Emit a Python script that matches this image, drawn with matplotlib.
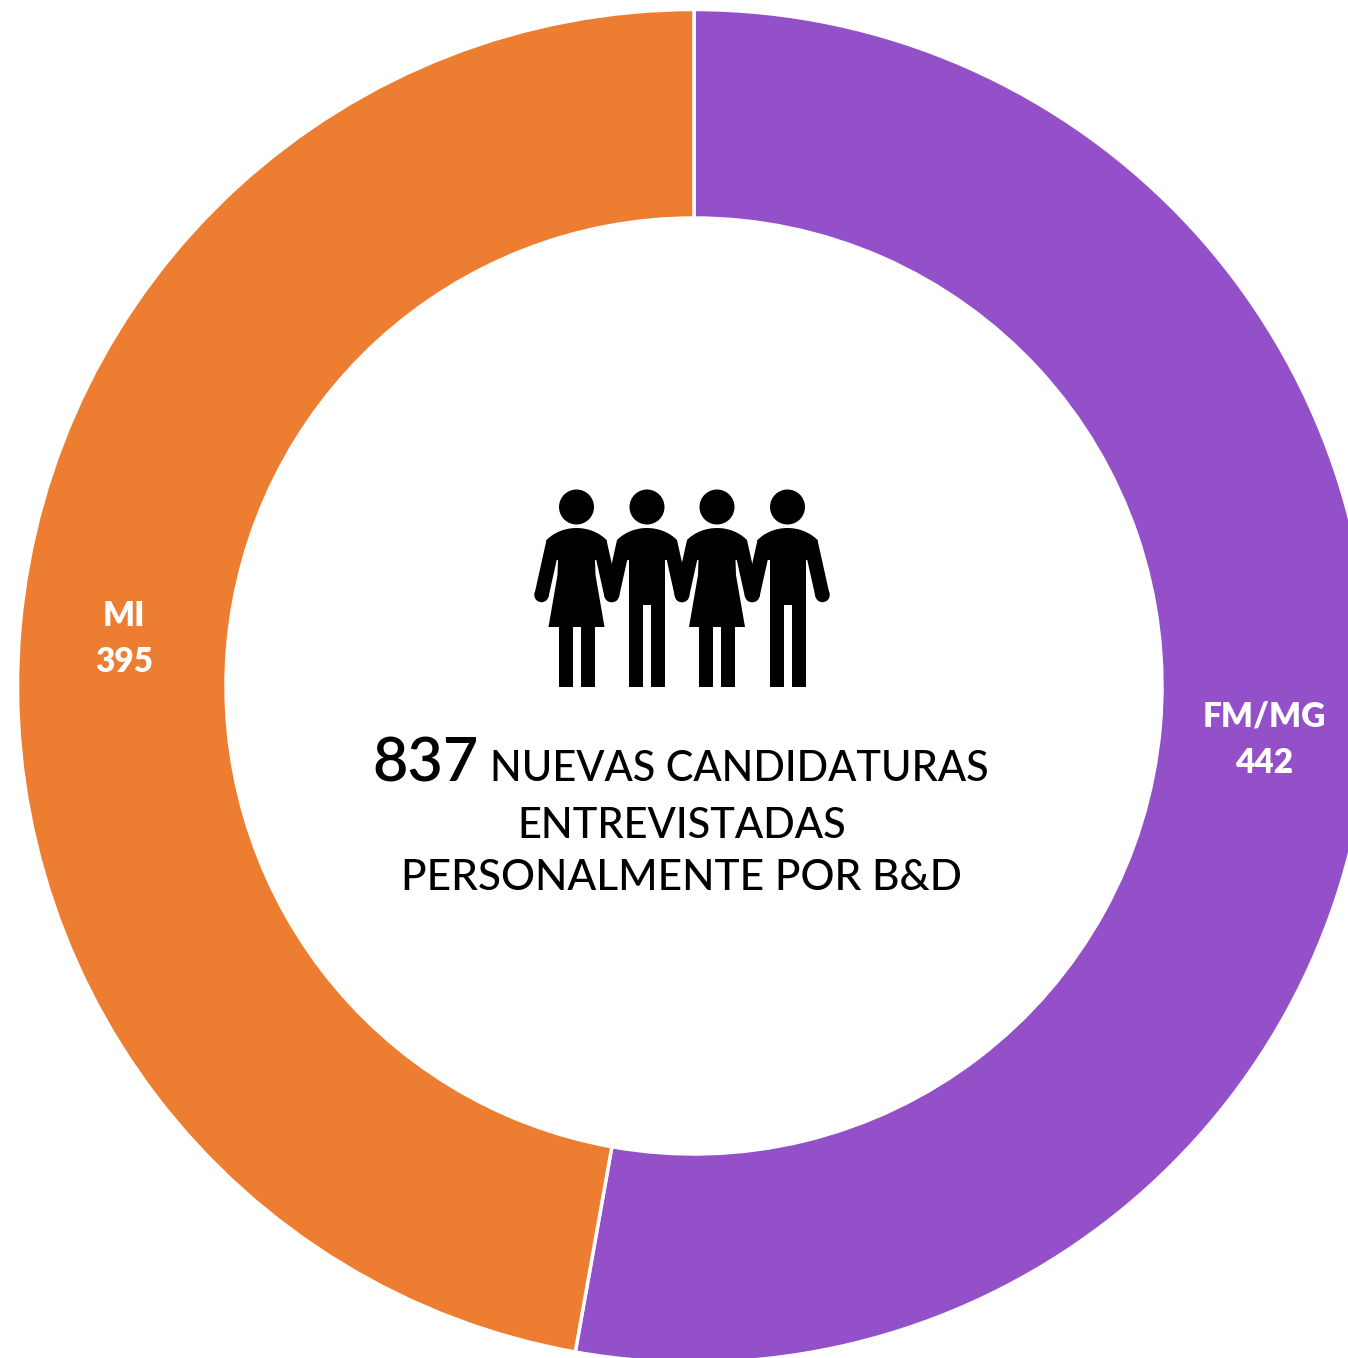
import matplotlib
matplotlib.use('Agg')
import matplotlib.pyplot as plt
from matplotlib.patches import Circle, PathPatch, Polygon
from matplotlib.path import Path

W, H = 1348, 1358

labels = ['FM/MG', 'MI']
values = [442, 395]
colors = ['#9450C8', '#ED7D31']
total_label = '837'

plt.rcParams['font.family'] = ['Lato', 'DejaVu Sans']

fig = plt.figure(figsize=(W / 100, H / 100), dpi=100)
ax = fig.add_axes([0, 0, 1, 1])

# ring, the y axis is flipped so increasing angle runs clockwise on screen
cx, cy = 694, 686
outer = 676.5
ring = 208.5
ax.pie(values, colors=colors, startangle=-90, counterclock=True, center=(cx, cy),
       radius=outer, frame=True,
       wedgeprops=dict(width=ring, edgecolor='white', linewidth=2.5))
ax.set_xlim(0, W)
ax.set_ylim(H, 0)
ax.set_aspect('equal')
ax.axis('off')


def torso(x):
    # head, shoulders and both arms, shared by the two figures
    ax.add_patch(Circle((x, 507), 17.5, fc='k', ec='none'))
    verts = [(x - 30, 540), (x - 14, 524), (x + 14, 524), (x + 30, 540),
             (x + 30, 560), (x - 30, 560), (x - 30, 540)]
    codes = [Path.MOVETO, Path.CURVE4, Path.CURVE4, Path.CURVE4,
             Path.LINETO, Path.LINETO, Path.CLOSEPOLY]
    ax.add_patch(PathPatch(Path(verts, codes), fc='k', ec='none'))
    for s in (-1, 1):
        ax.add_patch(Polygon([(x + s * 30, 540), (x + s * 42, 594), (x + s * 28, 597),
                              (x + s * 18, 552), (x + s * 18, 540)], fc='k', ec='none'))
        ax.add_patch(Circle((x + s * 35, 595), 7.2, fc='k', ec='none'))


def woman(x):
    torso(x)
    ax.add_patch(Polygon([(x - 18, 545), (x + 18, 545), (x + 19, 575), (x + 28, 627),
                          (x - 28, 627), (x - 19, 575)], fc='k', ec='none'))
    ax.add_patch(Polygon([(x - 18, 627), (x - 4, 627), (x - 4, 687), (x - 18, 687)], fc='k', ec='none'))
    ax.add_patch(Polygon([(x + 4, 627), (x + 18, 627), (x + 18, 687), (x + 4, 687)], fc='k', ec='none'))


def man(x):
    torso(x)
    ax.add_patch(Polygon([(x - 18, 545), (x + 18, 545), (x + 18, 687), (x + 4, 687), (x + 4, 605),
                          (x - 4, 605), (x - 4, 687), (x - 18, 687)], fc='k', ec='none'))


woman(576.5)
man(647)
woman(717)
man(787.5)

# centre text
ax.text(372, 781, total_label, fontsize=44, fontweight='semibold', color='k', va='baseline', ha='left')
ax.text(490, 781, 'NUEVAS CANDIDATURAS', fontsize=29.9, fontweight='medium', color='k', va='baseline', ha='left')
ax.text(682, 838, 'ENTREVISTADAS', fontsize=30, fontweight='medium', color='k', va='baseline', ha='center')
ax.text(681.5, 890, 'PERSONALMENTE POR B&D', fontsize=30.5, fontweight='medium', color='k', va='baseline', ha='center')

# slice labels
ax.text(1264, 717, labels[0], fontsize=24, fontweight='heavy', color='white', ha='center', va='center')
ax.text(1264, 763, str(values[0]), fontsize=24, fontweight='heavy', color='white', ha='center', va='center')
ax.text(124, 616, labels[1], fontsize=24, fontweight='heavy', color='white', ha='center', va='center')
ax.text(124, 662, str(values[1]), fontsize=24, fontweight='heavy', color='white', ha='center', va='center')

fig.savefig('out.png', dpi=100)
